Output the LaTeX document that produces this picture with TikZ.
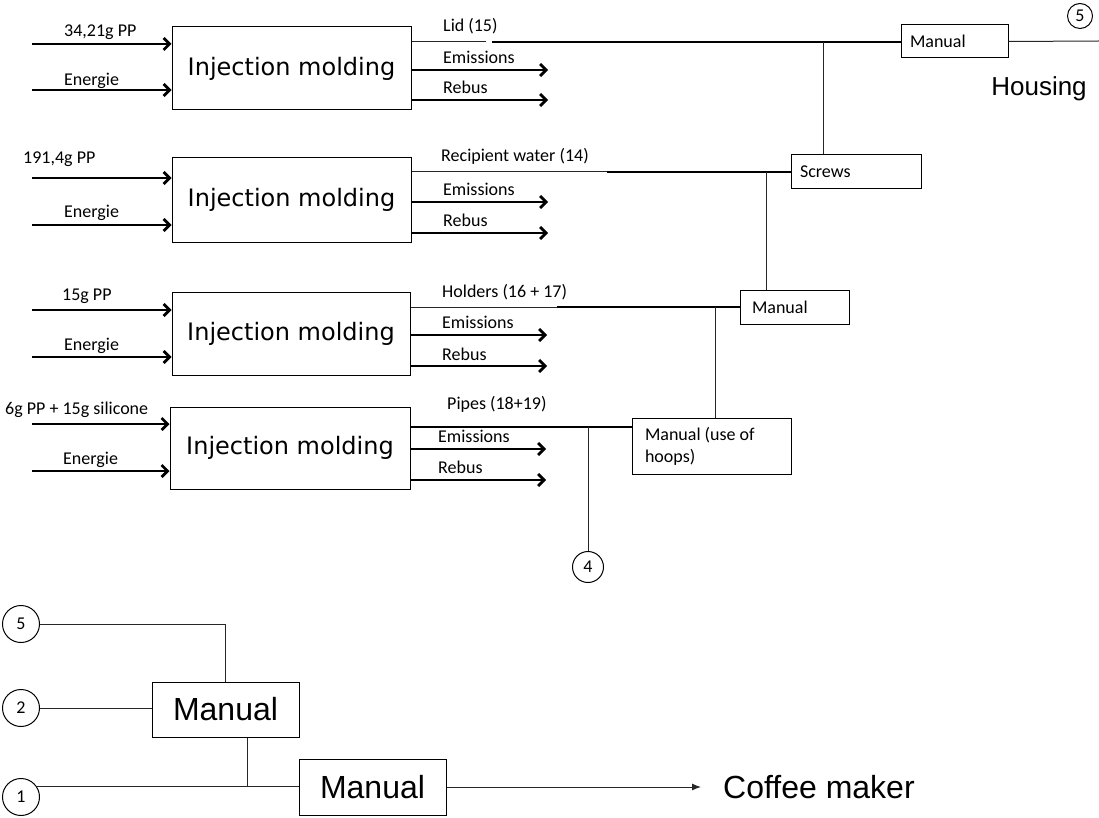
\documentclass[tikz,border=0pt]{standalone}
\usepackage{fontspec}
\usetikzlibrary{arrows.meta}
\newfontfamily\labfont{Carlito}
\newfontfamily\boxfont{DejaVu Sans}
\newfontfamily\bigfont{Liberation Sans}

\begin{document}
\begin{tikzpicture}[x=1pt,y=-1pt,
  thinline/.style={line width=1pt, draw=black!85},
  thickline/.style={line width=2.8pt},
  flow/.style={thickline, -{Straight Barb[length=6pt,width=12pt]}},
  molding/.style={draw, line width=1pt, minimum width=239pt, minimum height=83pt,
    inner sep=0pt, font=\boxfont\fontsize{24}{28}\selectfont},
  lab/.style={anchor=west, inner sep=0pt, font=\labfont\fontsize{18}{20}\selectfont,
    text height=12pt, text depth=4pt},
  procbox/.style={draw, line width=1pt, inner ysep=0pt, align=flush left,
    font=\labfont\fontsize{18}{22}\selectfont},
  bigbox/.style={draw, line width=1pt, inner sep=0pt, minimum width=147pt,
    minimum height=55pt, font=\bigfont\fontsize{32}{36}\selectfont},
  connector/.style={draw, circle, line width=1pt, inner sep=0pt,
    font=\labfont\fontsize{18}{20}\selectfont}
]
\useasboundingbox (0,0) rectangle (1099,818);

% ---------- injection molding steps ----------
\node[molding] (im1) at (291.5,68.5) {Injection molding};
\node[molding, minimum height=84pt] (im2) at (291.5,200) {Injection molding};
\node[molding, minimum width=238pt] (im3) at (291,333.5) {Injection molding};
\node[molding, minimum width=240pt, minimum height=82pt] (im4) at (290,448) {Injection molding};

% ---------- assembly steps ----------
\node[procbox, minimum height=33pt, inner xsep=9pt, text width=89pt] (man1) at (954.5,41.5) {Manual};
\node[procbox, minimum height=34pt, inner xsep=9pt, text width=112pt] (screws) at (856,172) {Screws};
\node[procbox, minimum height=34pt, inner xsep=12pt, text width=85pt] (man2) at (794.5,307) {Manual};
\node[procbox, minimum height=56pt, inner xsep=13pt, text width=133pt] (hoops) at (711.5,446) {Manual (use of\\hoops)};

% ---------- inputs ----------
\foreach \n/\ya/\yb in {1/44/90, 2/178/225, 3/310/357, 4/424/471}{
  \coordinate (in\n a) at (32,\ya);
  \coordinate (in\n b) at (32,\yb);
  \draw[flow] (in\n a) -- (in\n a -| im\n.west);
  \draw[flow] (in\n b) -- (in\n b -| im\n.west);
}
\node[lab] (l1a) at (64,33) {34,21g PP};
\node[lab] (l1b) at (64,82) {Energie};
\node[lab] (l2a) at (23,160) {191,4g PP};
\node[lab] (l2b) at (64,214) {Energie};
\node[lab] (l3a) at (62,296) {15g PP};
\node[lab] (l3b) at (64,346) {Energie};
\node[lab] (l4a) at (5,410) {6g PP + 15g silicone};
\node[lab] (l4b) at (63,460) {Energie};

% ---------- emissions and rebus ----------
\foreach \n/\ye/\yr/\xe in {1/70/100/548, 2/202/233/548, 3/335/366/547, 4/449/480/546}{
  \coordinate (em\n) at (\xe,\ye);
  \coordinate (rb\n) at (\xe,\yr);
  \draw[flow] (em\n -| im\n.east) -- (em\n);
  \draw[flow] (rb\n -| im\n.east) -- (rb\n);
}
\node[lab] (e1) at (443,60) {Emissions};
\node[lab] (r1) at (443,90) {Rebus};
\node[lab] (e2) at (443,192) {Emissions};
\node[lab] (r2) at (443,223) {Rebus};
\node[lab] (e3) at (442,324) {Emissions};
\node[lab] (r3) at (442,356) {Rebus};
\node[lab] (e4) at (438,438) {Emissions};
\node[lab] (r4) at (438,469) {Rebus};

% ---------- part flows ----------
\coordinate (lidA) at (486,42);
\coordinate (lidB) at (492,42);
\draw[thinline] (lidA -| im1.east) -- (lidA);
\draw[thickline] (lidB) -- (lidB -| man1.west);
\node[lab] (lid) at (443,28) {Lid (15)};

\coordinate (recA) at (607,172);
\draw[thinline] (recA -| im2.east) -- (recA);
\draw[thickline] (recA) -- (recA -| screws.west);
\node[lab] (rec) at (441,158) {Recipient water (14)};

\coordinate (holA) at (557,307);
\draw[thinline] (holA -| im3.east) -- (holA);
\draw[thickline] (holA) -- (holA -| man2.west);
\node[lab] (hol) at (442,293) {Holders (16 + 17)};

\coordinate (pipA) at (500,427);
\draw[thickline] (pipA -| im4.east) -- (pipA -| hoops.west);
\node[lab] (pip) at (447,405) {Pipes (18+19)};

% ---------- junctions ----------
\coordinate (j1) at (823,42);
\draw[thinline] (j1) -- (j1 |- screws.north);
\coordinate (j2) at (766,172);
\draw[thinline] (j2) -- (j2 |- man2.north);
\coordinate (j3) at (715,307);
\draw[thinline] (j3) -- (j3 |- hoops.north);

\node[connector, minimum size=31pt] (c4) at (588,567) {4};
\coordinate (j4) at (588,427);
\draw[thinline] (j4) -- (c4.north);

% ---------- housing ----------
\coordinate (hend) at (1099,41);
\draw[thinline] (man1.east) -- (hend);
\node[connector, minimum size=25pt] (c5top) at (1080,16) {5};
\node[font=\bigfont\fontsize{26}{30}\selectfont, inner sep=0pt] (housing) at (1039,89) {Housing};

% ---------- final assembly ----------
\node[connector, minimum size=37pt] (c5) at (21,624) {5};
\node[connector, minimum size=37pt] (c2) at (21,708) {2};
\node[connector, minimum size=37pt] (c1) at (21,797) {1};

\node[bigbox] (mA) at (225.5,709.5) {Manual};
\node[bigbox, minimum height=56pt] (mB) at (372.5,787) {Manual};
\node[font=\bigfont\fontsize{32}{36}\selectfont, inner sep=0pt, anchor=west] (coffee) at (723,787) {Coffee maker};

\draw[thinline] (c5.east) -| (mA.north);
\draw[thinline] (c2.east) -- (c2.east -| mA.west);
\draw[thinline] (c1.34) -- (c1.34 -| mB.west);
\coordinate (jA) at (247,787);
\draw[thinline] (jA |- mA.south) -- (jA);
\draw[thinline, -{Latex[length=9pt,width=7pt]}, shorten >=22pt] (mB.east) -- (coffee.west);

\end{tikzpicture}
\end{document}
